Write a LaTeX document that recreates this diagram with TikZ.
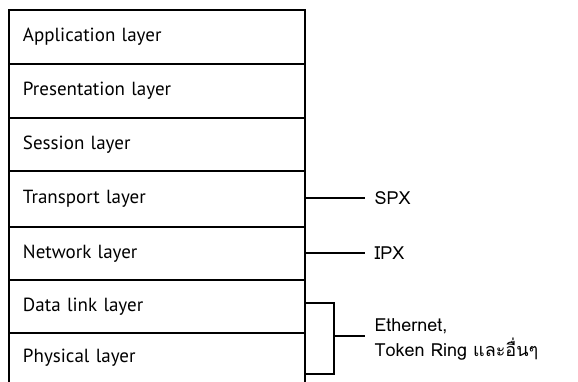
\documentclass[tikz,border=0pt]{standalone}
\usepackage{fontspec}
\setmainfont{PT Sans}
\newfontfamily\thaifont[Script=Thai]{Loma}

\begin{document}
\begin{tikzpicture}[x=1pt,y=1pt,line width=1.4pt,
	layer/.style={draw,anchor=north west,outer sep=0pt,minimum width=296pt,inner xsep=14pt,
		text width=268pt,align=left,font=\fontsize{19}{22}\selectfont},
	proto/.style={anchor=west,inner xsep=9pt,align=left,
		font=\thaifont\fontsize{18}{25}\selectfont}]
	\useasboundingbox (0,0) rectangle (578,-382);
	% the OSI stack
	\node[layer,minimum height=54pt] (app) at (9,-10) {Application layer};
	\node[layer,minimum height=54pt] (pres) at (app.south west) {Presentation layer};
	\node[layer,minimum height=53pt] (sess) at (pres.south west) {Session layer};
	\node[layer,minimum height=56pt] (trans) at (sess.south west) {Transport layer};
	\node[layer,minimum height=53pt] (net) at (trans.south west) {Network layer};
	\node[layer,minimum height=53pt] (dlink) at (net.south west) {Data link layer};
	\node[layer,draw=none,minimum height=49pt] (phys) at (dlink.south west) {Physical layer};
	\draw (phys.south west) -- (phys.north west);
	\draw (phys.north east) -- (phys.south east);
	% protocols
	\node[proto] (spx) at (365,-198) {SPX};
	\draw (trans.east |- spx) -- (spx.west);
	\node[proto] (ipx) at (365,-253) {IPX};
	\draw (net.east |- ipx) -- (ipx.west);
	\coordinate (brtop) at (334,-303);
	\coordinate (brbot) at (334,-374);
	\coordinate (brmid) at (334,-336);
	\draw (dlink.east |- brtop) -- (brtop) -- (brbot) -- (dlink.east |- brbot);
	\node[proto] (ether) at (365,-339) {Ethernet,\\Token Ring และอื่นๆ};
	\draw (brmid) -- (brmid -| ether.west);
\end{tikzpicture}
\end{document}
